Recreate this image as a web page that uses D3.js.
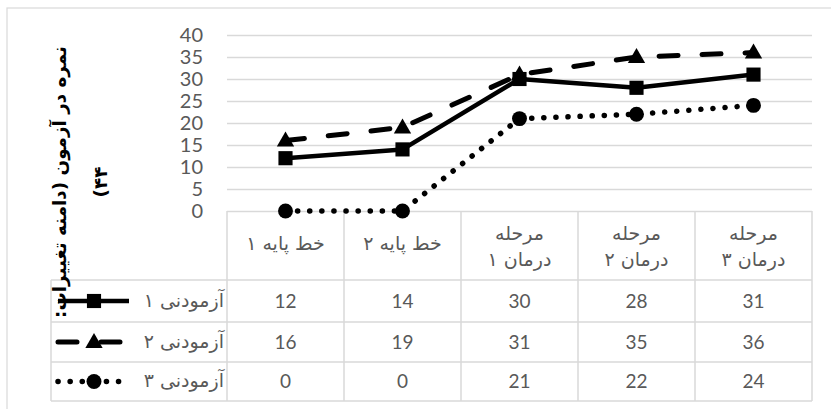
<!DOCTYPE html>
<html><head><meta charset="utf-8">
<script src="https://cdn.jsdelivr.net/npm/d3@7/dist/d3.min.js"></script>
<style>body{margin:0;background:#fff}svg{display:block}</style>
</head><body>
<svg id="c" width="831" height="409"></svg>
<script>
// ---- data ----
const categories = ["خط پایه ۱", "خط پایه ۲", "مرحله درمان ۱", "مرحله درمان ۲", "مرحله درمان ۳"];
const seriesNames = ["آزمودنی ۱", "آزمودنی ۲", "آزمودنی ۳"];
const series1 = [12, 14, 30, 28, 31];
const series2 = [16, 19, 31, 35, 36];
const series3 = [0, 0, 21, 22, 24];
const yTicks = [0, 5, 10, 15, 20, 25, 30, 35, 40];
const axisTitleLine1 = "نمره در آزمون (دامنه تغییرات:";
const axisTitleLine2 = "۴۴)";

// ---- layout ----
const svg = d3.select("#c");
const W = 831, H = 409;
const plotL = 227, plotR = 812, plotT = 35, plotB = 211;
const tableL = 51;
const rowLines = [280, 322, 362, 401];
const grid = "#d9d9d9", txt = "#595959";
const latin = "Lato, 'Open Sans', sans-serif";
const fa = "'DejaVu Sans', sans-serif";

svg.append("rect").attr("width", W).attr("height", H).attr("fill", "#fff");
svg.append("rect").attr("x", 7).attr("y", 8).attr("width", W + 10).attr("height", H + 10)
  .attr("fill", "none").attr("stroke", grid).attr("stroke-width", 1.2);

const x = d3.scaleBand().domain(categories).range([plotL, plotR]);
const y = d3.scaleLinear().domain([0, 40]).range([plotB, plotT]);
const cx = c => x(c) + x.bandwidth() / 2;

// gridlines
const gGrid = svg.append("g").attr("transform", `translate(${plotL},0)`)
  .call(d3.axisLeft(y).tickValues(yTicks).tickSize(-(plotR - plotL)).tickFormat(""));
gGrid.select(".domain").remove();
gGrid.selectAll("line").attr("stroke", grid).attr("stroke-width", 1.3);

// tick labels
const gY = svg.append("g").attr("transform", `translate(${plotL},0)`)
  .call(d3.axisLeft(y).tickValues(yTicks).tickSize(0).tickPadding(24));
gY.select(".domain").remove();
gY.selectAll("text").attr("fill", txt).style("font-family", latin).style("font-size", "20px");

// table
const tg = svg.append("g").attr("stroke", grid).attr("stroke-width", 1.5);
const bounds = categories.map(c => x(c)).concat([plotR]);
bounds.forEach(b => tg.append("line").attr("x1", b).attr("x2", b).attr("y1", plotB).attr("y2", rowLines[3]));
tg.append("line").attr("x1", tableL).attr("x2", tableL).attr("y1", rowLines[0]).attr("y2", rowLines[3]);
rowLines.forEach(r => tg.append("line").attr("x1", tableL).attr("x2", plotR).attr("y1", r).attr("y2", r));

// header labels
categories.forEach(c => {
  const lines = c.startsWith("مرحله") ? ["مرحله", c.slice(6)] : [c];
  const t = svg.append("text").attr("direction", "rtl").attr("text-anchor", "middle")
    .attr("fill", txt).style("font-family", fa).style("font-size", "19px");
  if (lines.length === 1) {
    t.append("tspan").attr("x", cx(c)).attr("y", 250).text(lines[0]);
  } else {
    t.append("tspan").attr("x", cx(c)).attr("y", 240).text(lines[0]);
    t.append("tspan").attr("x", cx(c)).attr("y", 266).text(lines[1]);
  }
});

const allSeries = [series1, series2, series3];
const rowMid = [0, 1, 2].map(i => (rowLines[i] + rowLines[i + 1]) / 2);

// values in table
allSeries.forEach((s, i) => {
  svg.selectAll(null).data(s).enter().append("text")
    .attr("x", (d, j) => cx(categories[j])).attr("y", rowMid[i]).attr("dy", "0.36em")
    .attr("text-anchor", "middle").attr("fill", txt)
    .style("font-family", latin).style("font-size", "19px").text(d => d);
  svg.append("text").attr("direction", "rtl").attr("text-anchor", "start")
    .attr("x", 224).attr("y", rowMid[i]).attr("dy", "0.3em").attr("fill", txt)
    .style("font-family", fa).style("font-size", "19px").text(seriesNames[i]);
});

// styles
const styles = [
  {dash: null, cap: "butt", w: 4.5},
  {dash: "19 24", cap: "round", w: 5},
  {dash: "0.1 12", cap: "round", w: 5.5}
];
const sym = [d3.symbolSquare, d3.symbolTriangle, d3.symbolCircle];
const symSize = [200, 130, 175];

const line = d3.line().x((d, j) => cx(categories[j])).y(d => y(d));

function marker(g, k, px, py) {
  g.append("path").attr("d", d3.symbol().type(sym[k]).size(symSize[k])())
    .attr("transform", `translate(${px},${py + (k === 1 ? 1 : 0)})`).attr("fill", "#000");
}

allSeries.forEach((s, i) => {
  const g = svg.append("g");
  g.append("path").datum(s).attr("d", line).attr("fill", "none").attr("stroke", "#000")
    .attr("stroke-width", styles[i].w).attr("stroke-dasharray", styles[i].dash)
    .attr("stroke-linecap", styles[i].cap).attr("stroke-linejoin", "round");
  s.forEach((d, j) => marker(g, i, cx(categories[j]), y(d)));
  // legend key
  const ly = rowMid[i];
  g.append("line").attr("x1", 58).attr("x2", 129).attr("y1", ly).attr("y2", ly)
    .attr("stroke", "#000").attr("stroke-width", styles[i].w)
    .attr("stroke-dasharray", styles[i].dash).attr("stroke-linecap", styles[i].cap);
  marker(g, i, 94, ly);
});

// axis title
const tY = 182;
const t1 = svg.append("text").attr("direction", "rtl").attr("text-anchor", "middle")
  .attr("transform", `translate(60,${tY}) rotate(-90)`).attr("dy", "0.35em")
  .attr("fill", "#000").style("font-family", fa).style("font-weight", "bold")
  .style("font-size", "17px").text(axisTitleLine1);
const len = t1.node().getComputedTextLength();
const fs = 17 * 272 / len;
t1.style("font-size", fs + "px");
svg.append("text").attr("direction", "rtl").attr("text-anchor", "middle")
  .attr("transform", `translate(101,${tY}) rotate(-90)`).attr("dy", "0.35em")
  .attr("fill", "#000").style("font-family", fa).style("font-weight", "bold")
  .style("font-size", fs + "px").text(axisTitleLine2);
</script>
</body></html>
